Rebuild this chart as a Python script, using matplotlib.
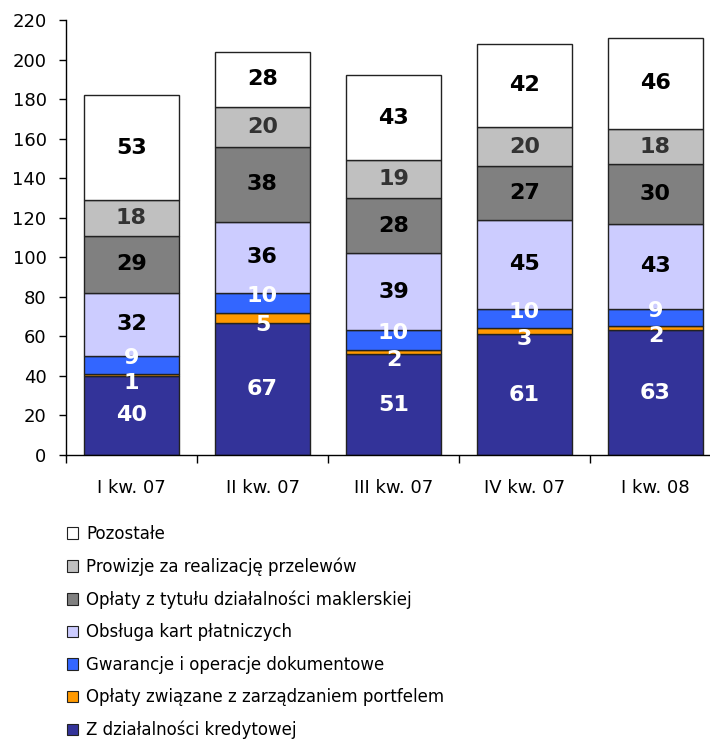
import matplotlib
matplotlib.use("Agg")
import matplotlib.pyplot as plt
from matplotlib.patches import Patch
import numpy as np

categories = ["I kw. 07", "II kw. 07", "III kw. 07", "IV kw. 07", "I kw. 08"]
series_names = [
    "Z działalności kredytowej",
    "Opłaty związane z zarządzaniem portfelem",
    "Gwarancje i operacje dokumentowe",
    "Obsługa kart płatniczych",
    "Opłaty z tytułu działalności maklerskiej",
    "Prowizje za realizację przelewów",
    "Pozostałe",
]
kredytowej = [40, 67, 51, 61, 63]
portfelem = [1, 5, 2, 3, 2]
gwarancje = [9, 10, 10, 10, 9]
karty = [32, 36, 39, 45, 43]
maklerskiej = [29, 38, 28, 27, 30]
przelewy = [18, 20, 19, 20, 18]
pozostale = [53, 28, 43, 42, 46]
yticks = list(range(0, 221, 20))

series = [kredytowej, portfelem, gwarancje, karty, maklerskiej, przelewy, pozostale]
colors = ["#333399", "#FF9900", "#3366FF", "#CCCCFF", "#808080", "#C0C0C0", "#FFFFFF"]
label_colors = ["white", "white", "white", "black", "black", "#333333", "black"]
label_offsets = [0, -4, 3.5, 0, 0, 0, 0]

W, H = 710, 741
fig = plt.figure(figsize=(W / 100, H / 100), dpi=100)
ax = fig.add_axes([66 / W, 1 - 455 / H, (721 - 66) / W, (455 - 20) / H])

x = np.arange(len(categories))
bottom = np.zeros(len(categories))
for vals, c, lc, off in zip(series, colors, label_colors, label_offsets):
    v = np.array(vals, dtype=float)
    ax.bar(x, v, bottom=bottom, width=0.72, color=c, edgecolor="#222222",
           linewidth=1.0, zorder=2)
    for xi, b, vi in zip(x, bottom, v):
        ax.text(xi, b + vi / 2 + off, f"{int(vi)}", ha="center", va="center",
                fontsize=16, fontweight="bold", color=lc, zorder=3)
    bottom += v

ax.set_xlim(-0.5, len(categories) - 0.5)
ax.set_ylim(0, 220)
ax.set_yticks(yticks)
ax.set_yticklabels([str(t) for t in yticks], fontsize=13)
ax.tick_params(axis="y", direction="out", length=5, pad=9, width=1)
ax.set_xticks(x)
ax.set_xticklabels(categories, fontsize=13)
ax.tick_params(axis="x", which="major", length=0, pad=17)
ax.set_xticks(np.arange(-0.5, len(categories), 1.0), minor=True)
ax.tick_params(axis="x", which="minor", direction="out", length=6, width=1)
for s in ["top", "right"]:
    ax.spines[s].set_visible(False)
for s in ["left", "bottom"]:
    ax.spines[s].set_linewidth(1)
    ax.spines[s].set_color("black")

handles = [Patch(facecolor=c, edgecolor="#222222", linewidth=0.8) for c in colors]
leg = fig.legend(handles[::-1], series_names[::-1], loc="upper left",
                 bbox_to_anchor=(60 / W, 1 - 518 / H), frameon=False,
                 fontsize=12, handlelength=0.68, handleheight=0.68,
                 handletextpad=0.5, labelspacing=0.87, borderaxespad=0)

fig.savefig("out.png", dpi=100)
